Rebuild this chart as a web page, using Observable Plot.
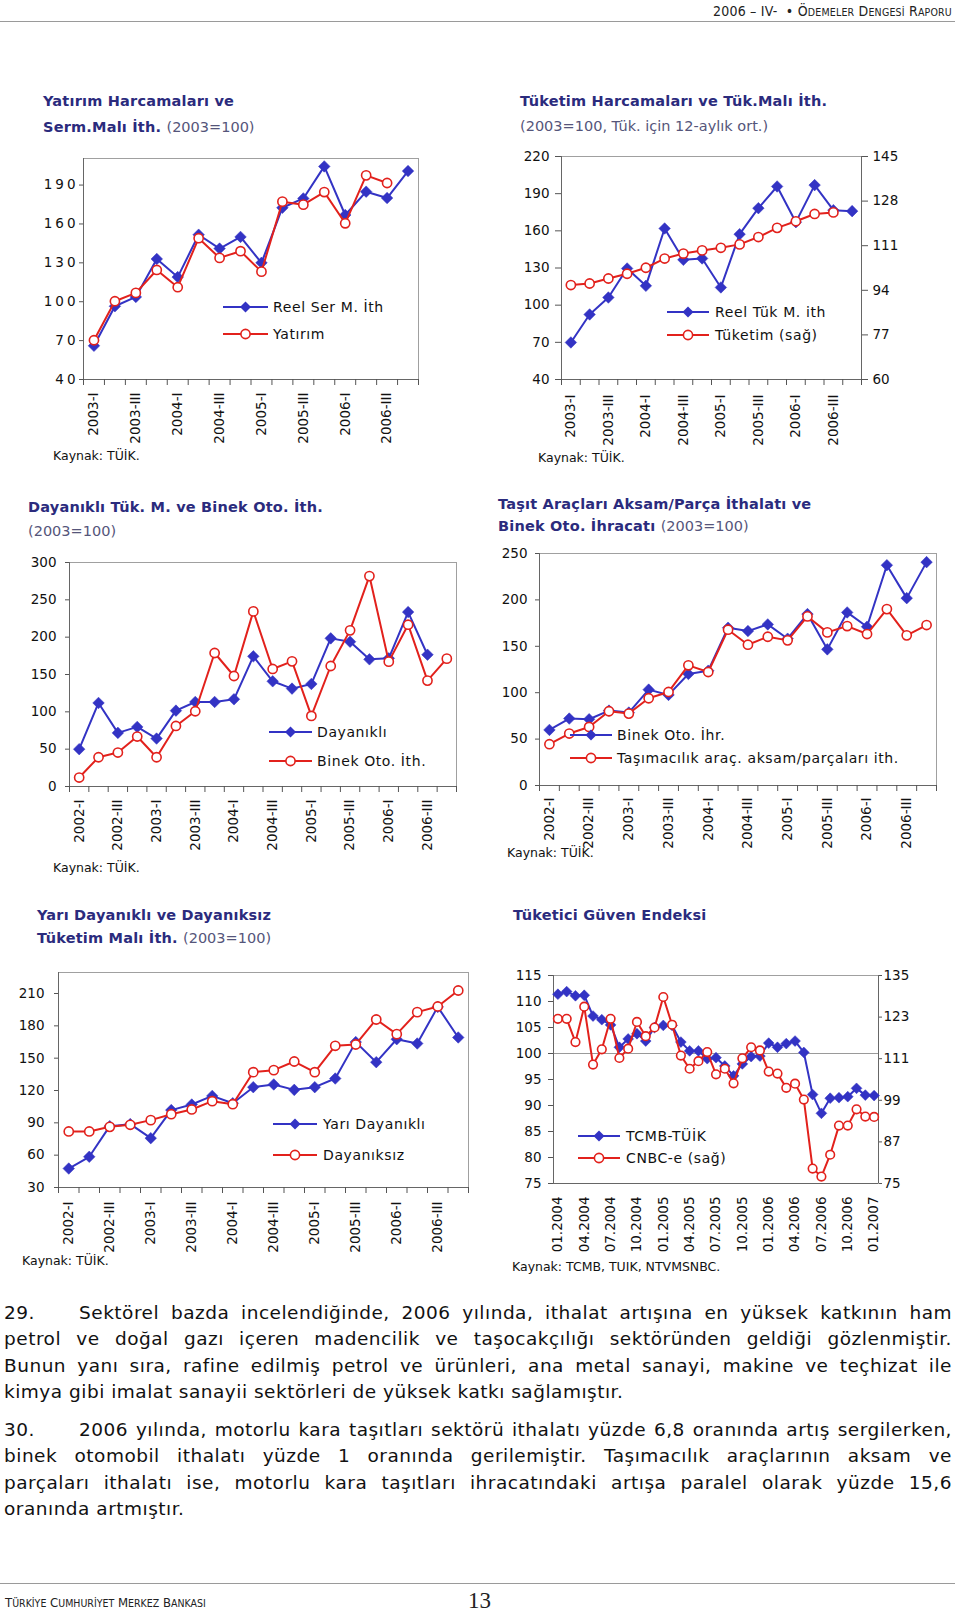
<!DOCTYPE html>
<html lang="tr">
<head>
<meta charset="utf-8">
<script src="https://cdn.jsdelivr.net/npm/d3@7"></script>
<script src="https://cdn.jsdelivr.net/npm/@observablehq/plot@0.6"></script>
<style>
html,body{margin:0;padding:0;background:#fff;}
body{width:960px;height:1611px;position:relative;overflow:hidden;font-family:"DejaVu Sans",sans-serif;color:#111;}
.abs{position:absolute;white-space:nowrap;}
.t{font-weight:bold;font-size:14.5px;color:#2b2b7d;line-height:18px;letter-spacing:0.2px;}
.t .s{font-weight:normal;color:#55557a;letter-spacing:0;}
.src{font-size:12.5px;line-height:16px;color:#111;}
.legend{font-size:14px;line-height:18px;height:20px;letter-spacing:0.6px;}
.par{position:absolute;left:4px;width:948px;font-size:18.5px;line-height:26.4px;color:#111;letter-spacing:0.5px;}
.par div{text-align:justify;text-align-last:justify;white-space:normal;}
.par div.last{text-align:left;text-align-last:left;}
.num{display:inline-block;width:75px;}
.sc{font-size:10.5px;}
#c1 g[aria-label="y-axis tick label"] text{letter-spacing:3px;}
</style>
</head>
<body>
<script>
// ---------- data ----------
const quarters16 = ["2003-I","2003-II","2003-III","2003-IV","2004-I","2004-II","2004-III","2004-IV","2005-I","2005-II","2005-III","2005-IV","2006-I","2006-II","2006-III","2006-IV"];
const ticks16 = ["2003-I","2003-III","2004-I","2004-III","2005-I","2005-III","2006-I","2006-III"];
const quarters20 = ["2002-I","2002-II","2002-III","2002-IV","2003-I","2003-II","2003-III","2003-IV","2004-I","2004-II","2004-III","2004-IV","2005-I","2005-II","2005-III","2005-IV","2006-I","2006-II","2006-III","2006-IV"];
const ticks20 = ["2002-I","2002-III","2003-I","2003-III","2004-I","2004-III","2005-I","2005-III","2006-I","2006-III"];
const months37 = ["01.2004","02.2004","03.2004","04.2004","05.2004","06.2004","07.2004","08.2004","09.2004","10.2004","11.2004","12.2004","01.2005","02.2005","03.2005","04.2005","05.2005","06.2005","07.2005","08.2005","09.2005","10.2005","11.2005","12.2005","01.2006","02.2006","03.2006","04.2006","05.2006","06.2006","07.2006","08.2006","09.2006","10.2006","11.2006","12.2006","01.2007"];
const monthTicks = ["01.2004","04.2004","07.2004","10.2004","01.2005","04.2005","07.2005","10.2005","01.2006","04.2006","07.2006","10.2006","01.2007"];

// Chart 1: Yatırım Harcamaları ve Serm.Malı İth.
const reelSerM = [66, 96.5, 103.7, 133, 119, 151.7, 141, 150, 130, 172.5, 179.7, 204.4, 166.9, 184.9, 180, 200.8];
const yatirim = [70.3, 100.4, 106.8, 124.5, 111.2, 149, 133.8, 139, 123.2, 177.2, 174.9, 184.6, 160.5, 197.5, 191.6];
const c1Ticks = [40, 70, 100, 130, 160, 190];

// Chart 2: Tüketim Harcamaları ve Tük.Malı İth.
const reelTukM = [69.9, 92.5, 106.2, 129.6, 115.6, 161.9, 136.6, 137.7, 114.3, 157.3, 178.3, 195.8, 167, 196.9, 176.7, 175.9];
const tuketim = [96.0, 96.6, 98.5, 100.3, 102.6, 106.1, 108.0, 109.2, 110.2, 111.5, 114.3, 117.8, 120.3, 123.1, 123.7];
const c2Ticks = [40, 70, 100, 130, 160, 190, 220];
const c2RightTicks = [60, 77, 94, 111, 128, 145];

// Chart 3: Dayanıklı Tük. M. ve Binek Oto. İth.
const dayanikli = [50, 111.9, 71.8, 79.8, 64.2, 101.6, 113.2, 113.2, 116.8, 174.3, 140.9, 131.1, 137.3, 198.4, 193.9, 170.3, 171.6, 233.6, 176.5];
const binekOtoIth = [12, 39.2, 45.5, 66.9, 39.2, 81.1, 100.8, 178.8, 148, 234.5, 157.4, 167.6, 94.5, 161.4, 209.1, 281.8, 167.2, 216.7, 141.8, 171.2];
const c3Ticks = [0, 50, 100, 150, 200, 250, 300];

// Chart 4: Taşıt Araçları Aksam/Parça İthalatı ve Binek Oto. İhracatı
const binekOtoIhr = [59.9, 72.1, 71.4, 80.7, 78.6, 103.3, 97.6, 120.2, 123.7, 170, 166.4, 173.6, 158.2, 184.7, 146.7, 186.5, 171.1, 237.4, 201.9, 240.7];
const tasimacilik = [44.5, 56, 63.1, 80, 77.5, 94, 100.8, 129.5, 122.3, 167.9, 151.7, 160.3, 156.4, 182.2, 165, 171.8, 163.2, 190.1, 161.8, 172.9];
const c4Ticks = [0, 50, 100, 150, 200, 250];

// Chart 5: Yarı Dayanıklı ve Dayanıksız Tüketim Malı İth.
const yariDayanikli = [47.6, 58.5, 86.9, 88.8, 75.8, 101.8, 107, 115, 108.2, 123.1, 125.6, 120.6, 123.1, 131.1, 164.9, 146.3, 167.6, 163.6, 197.6, 169.2];
const dayaniksiz = [82, 82, 86.3, 88.2, 92.5, 98, 102.4, 110.1, 107.3, 137, 138.9, 146.9, 137, 161.5, 162.7, 185.9, 172.3, 192.7, 198, 212.8];
const c5Ticks = [30, 60, 90, 120, 150, 180, 210];

// Chart 6: Tüketici Güven Endeksi
const tcmbTuik = [111.4, 111.9, 111.1, 111.2, 107.2, 106.5, 105.5, 101.2, 102.8, 103.8, 102.4, 105.0, 105.4, 105.4, 102.2, 100.5, 100.5, 99.0, 99.2, 97.6, 95.7, 98.0, 99.4, 99.5, 102.0, 101.2, 101.9, 102.4, 100.2, 92.1, 88.5, 91.4, 91.5, 91.7, 93.3, 92.0, 91.9];
const cnbce = [122.5, 122.5, 115.8, 126.0, 109.3, 113.7, 122.5, 111.2, 113.9, 121.6, 117.5, 120.0, 128.8, 120.8, 111.9, 108.1, 110.3, 112.9, 106.5, 108.1, 103.9, 111.1, 114.3, 113.4, 107.3, 106.7, 102.6, 103.8, 99.2, 79.3, 77.0, 83.3, 91.7, 91.7, 96.4, 94.3, 94.2];
const c6Ticks = [75, 80, 85, 90, 95, 100, 105, 110, 115];
const c6RightTicks = [75, 87, 99, 111, 123, 135];

const BLUE = "#3333c4", RED = "#e2211c";
const FONT = "'DejaVu Sans', sans-serif";

// ---------- helpers ----------
function makeChart(o) {
  const n = o.cats.length;
  const mL = 70, mR = 70, mT = 12, mB = 90;
  const W = o.frame.w + mL + mR, H = o.frame.h + mT + mB;
  const pos = c => o.cats.indexOf(c) + 0.5;
  const marks = [];
  if (o.refLine != null) marks.push(Plot.ruleY([o.refLine], {stroke: "#9a9a9a", strokeWidth: 1}));
  marks.push(Plot.frame({stroke: "#a0a0a0", strokeWidth: 1}));
  marks.push(Plot.ruleY([o.yDomain[0]], {stroke: "#666"}));
  marks.push(Plot.ruleX([0], {stroke: "#666"}));
  marks.push(Plot.axisY(o.yTicks, {label: null, tickSize: o.yts, tickPadding: o.ytp, fontSize: 13.5, color: "#111", stroke: "#555"}));
  if (o.right) {
    const sc = o.right.scale;
    marks.push(Plot.ruleX([n], {stroke: "#666"}));
    marks.push(Plot.axisY(o.right.ticks.map(sc), {label: null, anchor: "right", tickSize: o.right.ts, tickPadding: o.right.tp, fontSize: 13.5, color: "#111", stroke: "#555", tickFormat: v => String(Math.round(sc.invert(v)))}));
  }
  if (o.boundaryTicks !== false) {
    marks.push(Plot.axisX(d3.range(n + 1), {label: null, tickSize: 6, tickFormat: () => "", stroke: "#555"}));
  }
  marks.push(Plot.axisX(o.tickCats.map(pos), {label: null, tickSize: 0, tickPadding: o.xp, tickRotate: -90, fontSize: 13.5, color: "#111", tickFormat: v => o.cats[Math.floor(v)]}));
  for (const s of o.series) {
    const f = s.scale || (v => v);
    const data = s.values.map((v, i) => ({x: i + 0.5, y: f(v)}));
    marks.push(Plot.line(data, {x: "x", y: "y", stroke: s.color, strokeWidth: 2}));
    if (s.type === "diamond") {
      marks.push(Plot.dot(data, {x: "x", y: "y", symbol: "square", rotate: 45, r: o.r || 4.6, fill: s.color, stroke: s.color, strokeWidth: 0.5}));
    } else {
      marks.push(Plot.dot(data, {x: "x", y: "y", r: o.r || 4.6, fill: "white", stroke: s.color, strokeWidth: 1.6}));
    }
  }
  const svg = Plot.plot({
    width: W, height: H, marginLeft: mL, marginRight: mR, marginTop: mT, marginBottom: mB,
    x: {domain: [0, n], label: null}, y: {domain: o.yDomain, label: null},
    style: {fontFamily: FONT, fontSize: "13.5px", color: "#111", background: "transparent", overflow: "visible"},
    marks
  });
  svg.id = o.id;
  svg.style.position = "absolute";
  svg.style.left = (o.frame.l - mL) + "px";
  svg.style.top = (o.frame.t - mT) + "px";
  document.body.appendChild(svg);
}

function addDiv(cls, left, centerY, html, lh) {
  const d = document.createElement("div");
  d.className = "abs " + cls;
  d.style.left = left + "px";
  d.style.top = (centerY - lh / 2) + "px";
  d.innerHTML = html;
  document.body.appendChild(d);
  return d;
}

function legend(x1, x2, yc, textX, color, type, text) {
  const d = document.createElement("div");
  d.className = "abs legend";
  d.style.left = x1 + "px"; d.style.top = (yc - 10) + "px";
  const w = x2 - x1;
  const mk = type === "diamond"
    ? `<rect x="${w/2-3.9}" y="6.1" width="7.8" height="7.8" transform="rotate(45 ${w/2} 10)" fill="${color}"/>`
    : `<circle cx="${w/2}" cy="10" r="4.6" fill="white" stroke="${color}" stroke-width="1.6"/>`;
  d.innerHTML = `<svg width="${w}" height="20" style="position:absolute;left:0;top:0"><line x1="0" x2="${w}" y1="10" y2="10" stroke="${color}" stroke-width="2"/>${mk}</svg><span style="position:absolute;left:${textX - x1}px;top:1px">${text}</span>`;
  document.body.appendChild(d);
}

// ---------- header / footer ----------
const hdr = document.createElement("div");
hdr.className = "abs";
hdr.style.cssText = "right:8px;top:3px;font-family:'DejaVu Sans Condensed','Liberation Sans Narrow','DejaVu Sans',sans-serif;font-size:14px;color:#222;letter-spacing:0.2px";
hdr.innerHTML = `2006 – IV- &nbsp;• Ö<span class="sc">DEMELER</span> D<span class="sc">ENGESİ</span> R<span class="sc">APORU</span>`;
document.body.appendChild(hdr);
const hl = document.createElement("div");
hl.className = "abs"; hl.style.cssText = "left:0;top:21px;width:955px;border-top:1.5px solid #9a9a9a";
document.body.appendChild(hl);
const fl = document.createElement("div");
fl.className = "abs"; fl.style.cssText = "left:0;top:1583px;width:955px;border-top:1.5px solid #9a9a9a";
document.body.appendChild(fl);
const ft = document.createElement("div");
ft.className = "abs";
ft.style.cssText = "left:5px;top:1595px;font-family:'DejaVu Sans Condensed','Liberation Sans Narrow','DejaVu Sans',sans-serif;font-size:13px;color:#222";
ft.innerHTML = `T<span class="sc">ÜRKİYE</span> C<span class="sc">UMHURİYET</span> M<span class="sc">ERKEZ</span> B<span class="sc">ANKASI</span>`;
document.body.appendChild(ft);
const pg = document.createElement("div");
pg.className = "abs";
pg.style.cssText = "left:468px;top:1588px;font-family:'Liberation Serif',serif;font-size:23px;color:#222";
pg.textContent = "13";
document.body.appendChild(pg);

// ---------- chart 1 ----------
addDiv("t", 43, 101, "Yatırım Harcamaları ve", 18);
addDiv("t", 43, 127, "Serm.Malı İth. <span class='s'>(2003=100)</span>", 18);
makeChart({id: "c1", cats: quarters16, tickCats: ticks16, frame: {l: 83, t: 158, w: 335, h: 221},
  yDomain: [40, 210.5], yTicks: c1Ticks, yts: 4, ytp: 1, xp: 13,
  series: [{values: reelSerM, color: BLUE, type: "diamond"}, {values: yatirim, color: RED, type: "circle"}]});
legend(223, 268, 307, 273, BLUE, "diamond", "Reel Ser M. İth");
legend(223, 268, 334, 273, RED, "circle", "Yatırım");
addDiv("src", 53, 456, "Kaynak: TÜİK.", 16);

// ---------- chart 2 ----------
addDiv("t", 520, 101, "Tüketim Harcamaları ve Tük.Malı İth.", 18);
addDiv("t", 520, 126, "<span class='s'>(2003=100, Tük. için 12-aylık ort.)</span>", 18);
const c2Map = d3.scaleLinear().domain([60, 145]).range([40, 220]);
makeChart({id: "c2", cats: quarters16, tickCats: ticks16, frame: {l: 561, t: 156, w: 300, h: 223},
  yDomain: [40, 220], yTicks: c2Ticks, yts: 6, ytp: 6, xp: 15,
  right: {scale: c2Map, ticks: c2RightTicks, ts: 6, tp: 5},
  series: [{values: reelTukM, color: BLUE, type: "diamond"}, {values: tuketim, color: RED, type: "circle", scale: c2Map}]});
legend(667, 709, 312, 715, BLUE, "diamond", "Reel Tük M. ith");
legend(667, 709, 335, 715, RED, "circle", "Tüketim (sağ)");
addDiv("src", 538, 458, "Kaynak: TÜİK.", 16);

// ---------- chart 3 ----------
addDiv("t", 28, 507, "Dayanıklı Tük. M. ve Binek Oto. İth.", 18);
addDiv("t", 28, 531, "<span class='s'>(2003=100)</span>", 18);
makeChart({id: "c3", cats: quarters20, tickCats: ticks20, frame: {l: 69, t: 562, w: 387, h: 224},
  yDomain: [0, 300], yTicks: c3Ticks, yts: 4, ytp: 9, xp: 13,
  series: [{values: dayanikli, color: BLUE, type: "diamond"}, {values: binekOtoIth, color: RED, type: "circle"}]});
legend(269, 312, 732, 317, BLUE, "diamond", "Dayanıklı");
legend(269, 312, 761, 317, RED, "circle", "Binek Oto. İth.");
addDiv("src", 53, 868, "Kaynak: TÜİK.", 16);

// ---------- chart 4 ----------
addDiv("t", 498, 504, "Taşıt Araçları Aksam/Parça İthalatı ve", 18);
addDiv("t", 498, 526, "Binek Oto. İhracatı <span class='s'>(2003=100)</span>", 18);
makeChart({id: "c4", cats: quarters20, tickCats: ticks20, frame: {l: 539, t: 553, w: 397, h: 232},
  yDomain: [0, 250], yTicks: c4Ticks, yts: 4, ytp: 8, xp: 12,
  series: [{values: binekOtoIhr, color: BLUE, type: "diamond"}, {values: tasimacilik, color: RED, type: "circle"}]});
legend(570, 612, 735, 617, BLUE, "diamond", "Binek Oto. İhr.");
legend(570, 612, 758, 617, RED, "circle", "Taşımacılık araç. aksam/parçaları ith.");
addDiv("src", 507, 853, "Kaynak: TÜİK.", 16);

// ---------- chart 5 ----------
addDiv("t", 37, 915, "Yarı Dayanıklı ve Dayanıksız", 18);
addDiv("t", 37, 938, "Tüketim Malı İth. <span class='s'>(2003=100)</span>", 18);
makeChart({id: "c5", cats: quarters20, tickCats: ticks20, frame: {l: 58, t: 972, w: 410, h: 215},
  yDomain: [30, 229.5], yTicks: c5Ticks, yts: 4, ytp: 10, xp: 14,
  series: [{values: yariDayanikli, color: BLUE, type: "diamond"}, {values: dayaniksiz, color: RED, type: "circle"}]});
legend(273, 317, 1124, 323, BLUE, "diamond", "Yarı Dayanıklı");
legend(273, 317, 1155, 323, RED, "circle", "Dayanıksız");
addDiv("src", 22, 1261, "Kaynak: TÜİK.", 16);

// ---------- chart 6 ----------
addDiv("t", 513, 915, "Tüketici Güven Endeksi", 18);
const c6Map = d3.scaleLinear().domain([75, 135]).range([75, 115]);
makeChart({id: "c6", cats: months37, tickCats: monthTicks, frame: {l: 553, t: 975, w: 325, h: 208},
  yDomain: [75, 115], yTicks: c6Ticks, yts: 5, ytp: 7, xp: 13, boundaryTicks: false, refLine: 100, r: 4.3,
  right: {scale: c6Map, ticks: c6RightTicks, ts: 3, tp: 2},
  series: [{values: tcmbTuik, color: BLUE, type: "diamond"}, {values: cnbce, color: RED, type: "circle", scale: c6Map}]});
legend(578, 620, 1136, 626, BLUE, "diamond", "TCMB-TÜİK");
legend(578, 620, 1158, 626, RED, "circle", "CNBC-e (sağ)");
addDiv("src", 512, 1267, "Kaynak: TCMB, TUIK, NTVMSNBC.", 16);

// ---------- paragraphs ----------
const p1 = document.createElement("div");
p1.className = "par"; p1.style.top = "1300px";
p1.innerHTML = `<div><span class="num">29.</span>Sektörel bazda incelendiğinde, 2006 yılında, ithalat artışına en yüksek katkının ham</div>
<div>petrol ve doğal gazı içeren madencilik ve taşocakçılığı sektöründen geldiği gözlenmiştir.</div>
<div>Bunun yanı sıra, rafine edilmiş petrol ve ürünleri, ana metal sanayi, makine ve teçhizat ile</div>
<div class="last">kimya gibi imalat sanayii sektörleri de yüksek katkı sağlamıştır.</div>`;
document.body.appendChild(p1);
const p2 = document.createElement("div");
p2.className = "par"; p2.style.top = "1417px";
p2.innerHTML = `<div><span class="num">30.</span>2006 yılında, motorlu kara taşıtları sektörü ithalatı yüzde 6,8 oranında artış sergilerken,</div>
<div>binek otomobil ithalatı yüzde 1 oranında gerilemiştir. Taşımacılık araçlarının aksam ve</div>
<div>parçaları ithalatı ise, motorlu kara taşıtları ihracatındaki artışa paralel olarak yüzde 15,6</div>
<div class="last">oranında artmıştır.</div>`;
document.body.appendChild(p2);
</script>
</body>
</html>
